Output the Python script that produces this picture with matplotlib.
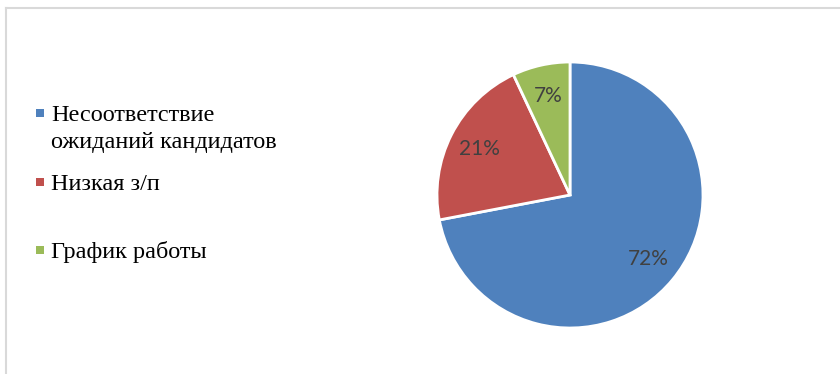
import matplotlib
matplotlib.use('Agg')
import matplotlib.pyplot as plt
from matplotlib.patches import Rectangle
from matplotlib.lines import Line2D

# Data
labels = ['Несоответствие\nожиданий кандидатов', 'Низкая з/п', 'График работы']
shares = [72, 21, 7]
colors = ['#4F81BD', '#C0504D', '#9BBB59']

W, H = 840, 374
fig = plt.figure(figsize=(W / 100, H / 100), dpi=100)
fig.patch.set_facecolor('white')

# chart frame (only top and left edges visible)
frame_col = '#D9D9D9'
fig.add_artist(Line2D([6 / W, 1], [1 - 8 / H, 1 - 8 / H], color=frame_col, lw=1.5))
fig.add_artist(Line2D([6 / W, 6 / W], [0, 1 - 8 / H], color=frame_col, lw=1.5))

# pie
cx, cy, r = 570, 195, 133
ax = fig.add_axes([(cx - r) / W, (H - cy - r) / H, 2 * r / W, 2 * r / H])
wedges, texts, autotexts = ax.pie(
    shares, colors=colors, startangle=90, counterclock=False,
    autopct='%d%%', pctdistance=0.76,
    wedgeprops={'edgecolor': 'white', 'linewidth': 2},
    textprops={'fontsize': 15, 'color': '#404040', 'family': 'Lato'})
ax.set_xlim(-1, 1)
ax.set_ylim(-1, 1)
ax.set_aspect('equal')
ax.axis('off')

# legend, placed by hand (baselines in pixels from top)
serif = ['Liberation Serif', 'DejaVu Serif']
legend_base = [121, 190, 258]
for lab, col, y in zip(labels, colors, legend_base):
    fig.add_artist(Rectangle((36 / W, 1 - (y - 4) / H), 8 / W, 8 / H,
                             transform=fig.transFigure, color=col, lw=0))
    for k, line in enumerate(lab.split('\n')):
        fig.text(51 / W, 1 - (y + 27 * k) / H, line, ha='left', va='baseline',
                 fontsize=17.5, family=serif, color='black')

fig.savefig('out.png', dpi=100, facecolor='white')
